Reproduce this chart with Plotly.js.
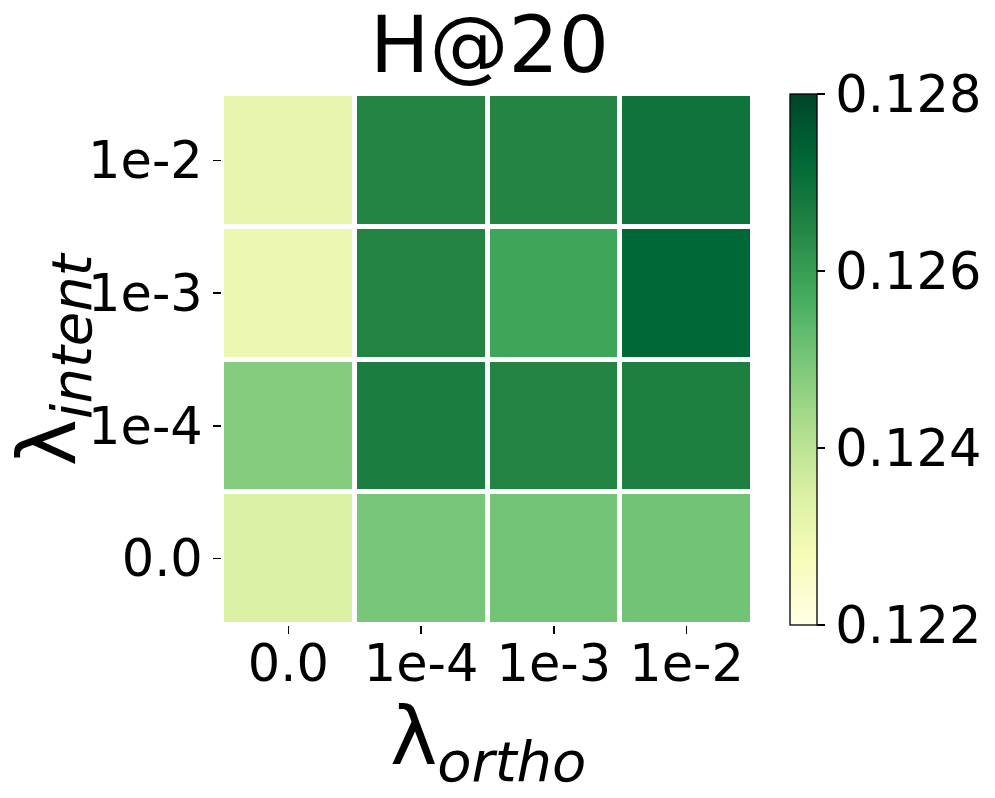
<!DOCTYPE html>
<html><head><meta charset="utf-8">
<script src="https://cdn.plot.ly/plotly-3.0.1.min.js"></script>
<style>body{margin:0;background:#fff}#c{width:995px;height:798px}</style>
</head><body><div id="c"></div>
<script>
const xLabels = ["0.0", "1e-4", "1e-3", "1e-2"];
const yLabels = ["0.0", "1e-4", "1e-3", "1e-2"];
// rows bottom to top: 0.0, 1e-4, 1e-3, 1e-2
const row_0 = [0.12344, 0.12500, 0.12506, 0.12509];
const row_1e4 = [0.12482, 0.12668, 0.12653, 0.12662];
const row_1e3 = [0.12302, 0.12653, 0.12584, 0.12725];
const row_1e2 = [0.12314, 0.12650, 0.12650, 0.12692];
const zmin = 0.122, zmax = 0.128;
const cbTicks = [0.122, 0.124, 0.126, 0.128];

const ylgn = [[0,"#ffffe5"],[0.125,"#f7fcb9"],[0.25,"#d9f0a3"],[0.375,"#addd8e"],[0.5,"#78c679"],[0.625,"#41ab5d"],[0.75,"#238443"],[0.875,"#006837"],[1,"#004529"]];
const F = "DejaVu Sans, sans-serif";
const TF = 51;

const trace = {
  type: "heatmap",
  x: xLabels, y: yLabels,
  z: [row_0, row_1e4, row_1e3, row_1e2],
  zmin: zmin, zmax: zmax,
  colorscale: ylgn,
  xgap: 5, ygap: 5,
  hoverinfo: "skip",
  colorbar: {
    x: 1.0697, xanchor: "left", xpad: 0, y: 0.5, yanchor: "middle", ypad: 0,
    len: 1, lenmode: "fraction", thickness: 27, thicknessmode: "pixels",
    outlinecolor: "#000", outlinewidth: 1.3,
    tickvals: cbTicks, ticktext: cbTicks.map(v => v.toFixed(3)),
    ticks: "outside", ticklen: 8, tickwidth: 1.3, tickcolor: "#000",
    tickfont: {family: F, size: TF, color: "#000"}
  }
};

const layout = {
  width: 995, height: 798,
  paper_bgcolor: "#fff", plot_bgcolor: "#fff",
  margin: {l: 222, r: 242, t: 94, b: 173},
  title: {text: "H@20", font: {family: F, size: 79, color: "#000"}, x: 0.492, xanchor: "center", y: 0.945, yanchor: "middle"},
  xaxis: {
    type: "category", tickvals: xLabels, ticks: "outside", ticklen: 8, tickwidth: 1.5, tickcolor: "#000",
    tickfont: {family: F, size: TF, color: "#000"}, showgrid: false, zeroline: false, showline: false,
    ticklabelstandoff: -14,
    automargin: false
  },
  yaxis: {
    type: "category", tickvals: yLabels, ticks: "outside", ticklen: 8, tickwidth: 1.5, tickcolor: "#000",
    tickfont: {family: F, size: TF, color: "#000"}, showgrid: false, zeroline: false, showline: false,
    automargin: false
  },
  annotations: [
    {text: "λ<sub><i>ortho</i></sub>", xref: "paper", yref: "paper", x: 0.5, y: -0.118, xanchor: "center", yanchor: "top",
     showarrow: false, font: {family: F, size: 80, color: "#000"}},
    {text: "λ<sub><i>intent</i></sub>", xref: "paper", yref: "paper", x: (52 - 222) / 531, y: 0.5, xanchor: "center", yanchor: "middle",
     textangle: -90, showarrow: false, font: {family: F, size: 80, color: "#000"}}
  ]
};

Plotly.newPlot("c", [trace], layout, {displayModeBar: false, staticPlot: true});
</script></body></html>
